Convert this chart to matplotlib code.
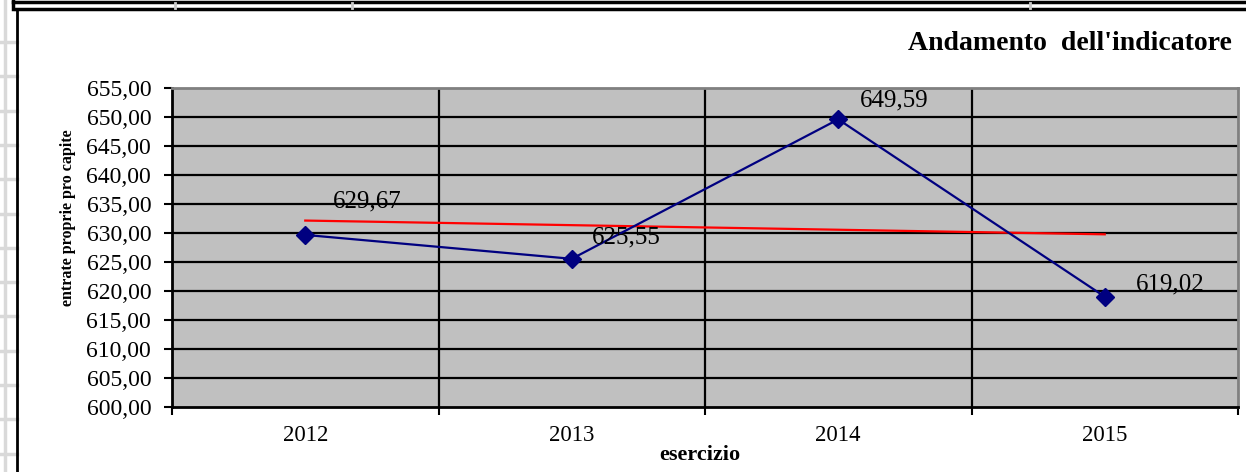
import matplotlib.pyplot as plt
import numpy as np
from matplotlib.lines import Line2D

# Data
years = ['2012', '2013', '2014', '2015']
values = [629.67, 625.55, 649.59, 619.02]
value_labels = ['629,67', '625,55', '649,59', '619,02']
label_offsets = [(28, 33), (20, 21), (22, 19), (31, 12)]  # pixels right / up

plt.rcParams['font.family'] = 'Liberation Serif'

fig = plt.figure(figsize=(12.46, 4.72), dpi=100)
W, H = 1246, 472

def fx(px):
    return px / W

def fy(py):
    return 1 - py / H

# Spreadsheet cells behind the chart
fig.add_artist(Line2D([fx(5), fx(5)], [0, 1], color='#d9d9d9', lw=2.5))
for yy in np.arange(42, H, 34.3):
    fig.add_artist(Line2D([0, fx(17)], [fy(yy), fy(yy)], color='#d9d9d9', lw=2.5))

# Chart frame
fig.add_artist(Line2D([fx(13), 1], [fy(1.5), fy(1.5)], color='black', lw=2.5))
fig.add_artist(Line2D([fx(16), 1], [fy(9), fy(9)], color='black', lw=2.5))
fig.add_artist(Line2D([fx(13.5), fx(13.5)], [fy(0), fy(9)], color='black', lw=2.5))
fig.add_artist(Line2D([fx(17), fx(17)], [fy(9), 0], color='black', lw=2))
for xx in [175, 352, 1030]:
    fig.add_artist(Line2D([fx(xx), fx(xx)], [fy(3), fy(8)], color='#c8c8c8', lw=2))

ax = fig.add_axes([fx(172), fy(407), fx(1238) - fx(172), fy(88) - fy(407)])
ax.set_facecolor('#c0c0c0')

x = np.arange(len(values))

# Horizontal and vertical grid
for v in np.arange(605, 655, 5):
    ax.axhline(v, color='black', lw=1.6, zorder=1)
for b in [0.5, 1.5, 2.5]:
    ax.axvline(b, color='black', lw=1.6, zorder=1)

# Series and linear trend
ax.plot(x, values, color='#000080', lw=1.6, marker='D', ms=9, mfc='#000080',
        mec='#000080', zorder=3)
coef = np.polyfit(x, values, 1)
ax.plot(x, np.polyval(coef, x), color='red', lw=1.6, zorder=2)

for xi, v, lab, (dx, dy) in zip(x, values, value_labels, label_offsets):
    ax.annotate(lab, (xi, v), xytext=(dx, dy), textcoords='offset pixels',
                ha='left', va='center', fontsize=18, zorder=4)

ax.set_xlim(-0.5, 3.5)
ax.set_ylim(600, 655)

ax.set_yticks(np.arange(600, 656, 5))
ax.set_yticklabels([f'{v:.2f}'.replace('.', ',') for v in np.arange(600, 656, 5)],
                   fontsize=17)
ax.tick_params(axis='y', direction='out', length=6, width=1.5, pad=9)

ax.set_xticks([-0.5, 0.5, 1.5, 2.5, 3.5])
ax.set_xticklabels([])
ax.set_xticks(x, minor=True)
ax.set_xticklabels(years, minor=True, fontsize=16.5)
ax.tick_params(axis='x', which='major', direction='out', length=6, width=1.5)
ax.tick_params(axis='x', which='minor', length=0, pad=13)

for side in ['left', 'bottom']:
    ax.spines[side].set_color('black')
    ax.spines[side].set_linewidth(2)
for side in ['top', 'right']:
    ax.spines[side].set_color('#808080')
    ax.spines[side].set_linewidth(2)

fig.text(fx(908), fy(43), "Andamento  dell'indicatore", fontsize=20,
         fontweight='bold', ha='left', va='center')
fig.text(fx(68), fy(218), 'entrate proprie pro capite', fontsize=11.5,
         fontweight='bold', rotation=90, ha='center', va='center')
fig.text(fx(700), fy(455), 'esercizio', fontsize=16, fontweight='bold',
         ha='center', va='center')

fig.savefig('out.png', dpi=100)
